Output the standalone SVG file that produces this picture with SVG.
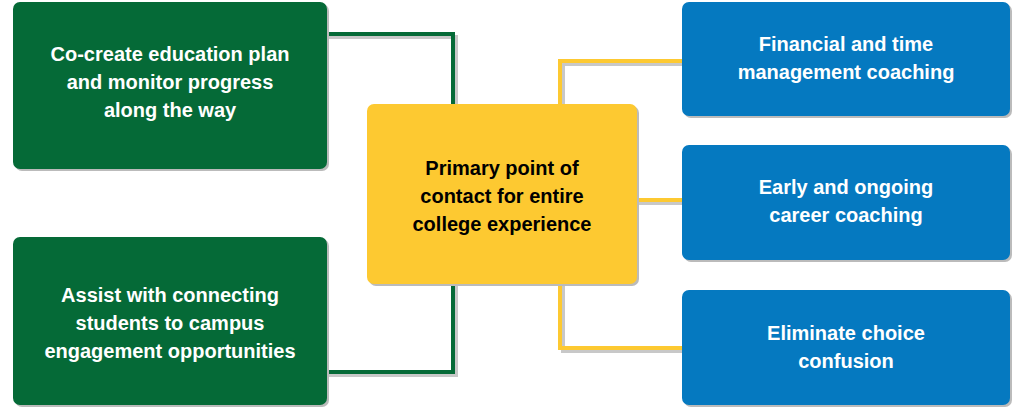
<svg xmlns="http://www.w3.org/2000/svg" width="1024" height="409" viewBox="0 0 1024 409">
<style>
.t{font-family:"Liberation Sans",Arial,sans-serif;font-weight:bold;font-size:20px;text-anchor:middle}
.w{fill:#fff}.k{fill:#000}
.g{fill:#056a37}.b{fill:#0579c0}.y{fill:#fdc931}
.sh{fill:#bbb}
.cg{fill:none;stroke:#056a37;stroke-width:4}
.cy{fill:none;stroke:#fdc931;stroke-width:4}
.cs{fill:none;stroke:#c8c8c8;stroke-width:4}
</style>
<g id="connectors">
<path class="cs" d="M327 37 H456 V104 M456 286 V375 H327 M563 104 V64 H682 M639 203 H682 M563 286 V351 H682"/>
<path class="cg" d="M327 34 H453 V104 M453 284 V372 H327"/>
<path class="cy" d="M560 104 V61 H682 M637 200 H682 M560 284 V348 H682"/>
</g>
<g id="n1"><rect class="sh" x="15" y="4" width="314" height="167" rx="7"/><rect class="g" x="13" y="2" width="314" height="167" rx="7"/>
<text class="t w"><tspan x="170" y="61">Co-create education plan</tspan><tspan x="170" y="89">and monitor progress</tspan><tspan x="170" y="117">along the way</tspan></text></g>
<g id="n2"><rect class="sh" x="15" y="239" width="314" height="168" rx="7"/><rect class="g" x="13" y="237" width="314" height="168" rx="7"/>
<text class="t w"><tspan x="170" y="302">Assist with connecting</tspan><tspan x="170" y="330">students to campus</tspan><tspan x="170" y="358">engagement opportunities</tspan></text></g>
<g id="center"><rect class="sh" x="369" y="106" width="270" height="180" rx="7"/><rect class="y" x="367" y="104" width="270" height="180" rx="7"/>
<text class="t k"><tspan x="502" y="175">Primary point of</tspan><tspan x="502" y="203">contact for entire</tspan><tspan x="502" y="231">college experience</tspan></text></g>
<g id="b1"><rect class="sh" x="684" y="4" width="328" height="114" rx="7"/><rect class="b" x="682" y="2" width="328" height="114" rx="7"/>
<text class="t w"><tspan x="846" y="51">Financial and time</tspan><tspan x="846" y="79">management coaching</tspan></text></g>
<g id="b2"><rect class="sh" x="684" y="147" width="328" height="115" rx="7"/><rect class="b" x="682" y="145" width="328" height="115" rx="7"/>
<text class="t w"><tspan x="846" y="194">Early and ongoing</tspan><tspan x="846" y="222">career coaching</tspan></text></g>
<g id="b3"><rect class="sh" x="684" y="292" width="328" height="115" rx="7"/><rect class="b" x="682" y="290" width="328" height="115" rx="7"/>
<text class="t w"><tspan x="846" y="340">Eliminate choice</tspan><tspan x="846" y="368">confusion</tspan></text></g>
</svg>
